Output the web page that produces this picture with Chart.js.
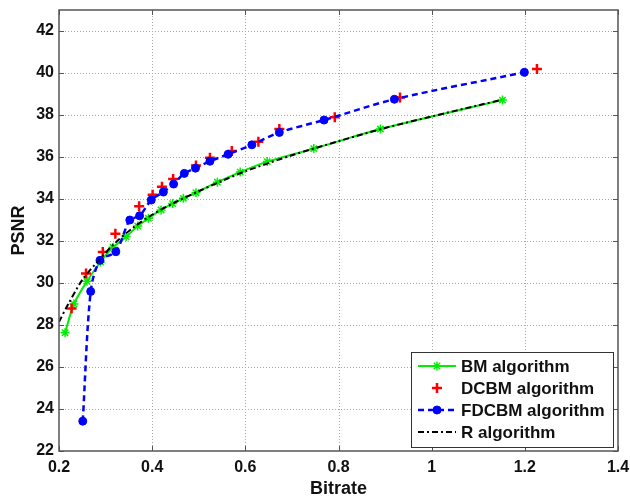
<!DOCTYPE html>
<html>
<head>
<meta charset="utf-8">
<script src="https://cdn.jsdelivr.net/npm/chart.js@4.4.1/dist/chart.umd.min.js"></script>
<style>
  body { margin:0; background:#fff; }
  #wrap { width:630px; height:501px; position:relative; }
</style>
</head>
<body>
<div id="wrap"><canvas id="myChart"></canvas></div>
<script>
// values
const bmRate = [0.213, 0.232, 0.260, 0.289, 0.316, 0.344, 0.369, 0.392, 0.419, 0.444, 0.467, 0.494, 0.540, 0.589, 0.647, 0.747, 0.890, 1.152];
const bmPsnr = [27.63, 29.0, 30.08, 31.0, 31.7, 32.2, 32.71, 33.08, 33.48, 33.78, 34.03, 34.30, 34.80, 35.28, 35.78, 36.40, 37.33, 38.71];

const dcbmRate = [0.227, 0.258, 0.294, 0.321, 0.372, 0.401, 0.421, 0.445, 0.494, 0.524, 0.571, 0.628, 0.673, 0.792, 0.932, 1.226];
const dcbmPsnr = [28.78, 30.45, 31.48, 32.35, 33.65, 34.2, 34.58, 34.95, 35.6, 35.97, 36.28, 36.73, 37.33, 37.89, 38.83, 40.19];

const fdcbmRate = [0.251, 0.268, 0.288, 0.322, 0.352, 0.373, 0.398, 0.424, 0.446, 0.469, 0.493, 0.524, 0.563, 0.614, 0.673, 0.769, 0.920, 1.199];
const fdcbmPsnr = [23.42, 29.6, 31.08, 31.49, 33.0, 33.2, 33.95, 34.33, 34.71, 35.22, 35.47, 35.8, 36.13, 36.58, 37.17, 37.76, 38.75, 40.03];

const rRate = [0.2, 0.22, 0.25, 0.28, 0.32, 0.36, 0.4, 0.45, 0.5, 0.55, 0.6, 0.7, 0.8, 0.9, 1.0, 1.1, 1.15];
const rPsnr = [28.15, 29.0, 30.15, 30.95, 31.9, 32.65, 33.25, 33.85, 34.37, 34.86, 35.32, 36.08, 36.75, 37.38, 37.93, 38.46, 38.72];

const seriesNames = ['BM algorithm', 'DCBM algorithm', 'FDCBM algorithm', 'R algorithm'];
const xTicks = [0.2, 0.4, 0.6, 0.8, 1.0, 1.2, 1.4];
const yTicks = [22, 24, 26, 28, 30, 32, 34, 36, 38, 40, 42];

const pts = (xs, ys) => xs.map((v, i) => ({x: v, y: ys[i]}));
const FONT = '"Liberation Sans", Arial, sans-serif';

// dotted grid, box, inner ticks and legend, matlab style
const matlabBits = {
  id: 'matlabBits',
  beforeDatasetsDraw(chart) {
    const ctx = chart.ctx, a = chart.chartArea;
    const sx = chart.scales.x, sy = chart.scales.y;
    ctx.save();
    ctx.strokeStyle = '#a8a8a8';
    ctx.lineWidth = 1;
    ctx.setLineDash([1, 2]);
    xTicks.slice(1, -1).forEach(v => {
      const px = Math.round(sx.getPixelForValue(v)) + 0.5;
      ctx.beginPath(); ctx.moveTo(px, a.top); ctx.lineTo(px, a.bottom); ctx.stroke();
    });
    yTicks.slice(1).forEach(v => {
      const py = Math.round(sy.getPixelForValue(v)) + 0.5;
      ctx.beginPath(); ctx.moveTo(a.left, py); ctx.lineTo(a.right, py); ctx.stroke();
    });
    ctx.restore();
  },
  afterDatasetsDraw(chart) {
    const ctx = chart.ctx, a = chart.chartArea;
    const sx = chart.scales.x, sy = chart.scales.y;
    ctx.save();
    ctx.strokeStyle = '#555';
    ctx.lineWidth = 1;
    xTicks.forEach(v => {
      const px = Math.round(sx.getPixelForValue(v)) + 0.5;
      ctx.beginPath();
      ctx.moveTo(px, a.bottom); ctx.lineTo(px, a.bottom - 5);
      ctx.moveTo(px, a.top); ctx.lineTo(px, a.top + 5);
      ctx.stroke();
    });
    yTicks.forEach(v => {
      const py = Math.round(sy.getPixelForValue(v)) + 0.5;
      ctx.beginPath();
      ctx.moveTo(a.left, py); ctx.lineTo(a.left + 5, py);
      ctx.moveTo(a.right, py); ctx.lineTo(a.right - 5, py);
      ctx.stroke();
    });
    ctx.lineWidth = 1.5;
    ctx.strokeRect(a.left, a.top, a.right - a.left, a.bottom - a.top);

    // legend
    const lx = 411, ly = 352, lw = 202, lh = 95;
    ctx.fillStyle = '#fff';
    ctx.fillRect(lx, ly, lw, lh);
    ctx.strokeStyle = '#333';
    ctx.lineWidth = 1;
    ctx.strokeRect(lx + 0.5, ly + 0.5, lw, lh);
    const rows = [366, 388, 410, 432];
    chart.data.datasets.forEach((ds, i) => {
      const y = rows[i];
      ctx.save();
      if (ds.showLine !== false) {
        ctx.strokeStyle = ds.borderColor;
        ctx.lineWidth = ds.borderWidth;
        ctx.setLineDash(ds.borderDash || []);
        ctx.beginPath();
        ctx.moveTo(418, y); ctx.lineTo(456, y);
        ctx.stroke();
      }
      ctx.setLineDash([]);
      if (ds.pointRadius > 0) {
        ctx.fillStyle = ds.pointBackgroundColor;
        ctx.strokeStyle = ds.pointBorderColor;
        ctx.lineWidth = ds.pointBorderWidth || ds.borderWidth;
        Chart.helpers.drawPoint(ctx, {
          pointStyle: ds.pointStyle, radius: ds.pointRadius,
          borderWidth: ds.pointBorderWidth || ds.borderWidth, rotation: 0
        }, 437, y);
      }
      ctx.restore();
      ctx.fillStyle = '#111';
      ctx.font = 'bold 17px ' + FONT;
      ctx.textBaseline = 'middle';
      ctx.fillText(ds.label, 461, y + 1);
    });
    ctx.restore();
  }
};

window.myChart = new Chart(document.getElementById('myChart'), {
  type: 'scatter',
  data: {
    datasets: [
      {
        label: seriesNames[0], data: pts(bmRate, bmPsnr), showLine: true,
        borderColor: '#00ee00', borderWidth: 2, order: 3,
        pointStyle: 'star', pointRadius: 4.5, pointBorderWidth: 1.5,
        pointBorderColor: '#00ee00', pointBackgroundColor: '#00ee00'
      },
      {
        label: seriesNames[1], data: pts(dcbmRate, dcbmPsnr), showLine: false,
        borderColor: '#ff0000', borderWidth: 2.5, order: 2,
        pointStyle: 'cross', pointRadius: 5, pointBorderWidth: 2.5,
        pointBorderColor: '#ff0000', pointBackgroundColor: '#ff0000'
      },
      {
        label: seriesNames[2], data: pts(fdcbmRate, fdcbmPsnr), showLine: true,
        borderColor: '#0000ff', borderWidth: 2.5, borderDash: [6, 4], order: 1,
        pointStyle: 'circle', pointRadius: 4, pointBorderWidth: 1,
        pointBorderColor: '#0000ff', pointBackgroundColor: '#0000ff'
      },
      {
        label: seriesNames[3], data: pts(rRate, rPsnr), showLine: true,
        borderColor: '#000000', borderWidth: 2, borderDash: [6, 3, 2, 3], order: 0,
        pointRadius: 0, pointBorderColor: '#000', pointBackgroundColor: '#000'
      }
    ]
  },
  options: {
    responsive: true,
    maintainAspectRatio: false,
    animation: false,
    layout: { padding: { top: 10, right: 12, left: 0, bottom: 0 } },
    elements: { line: { tension: 0.3, fill: false } },
    plugins: { legend: { display: false }, tooltip: { enabled: false } },
    scales: {
      x: {
        type: 'linear', min: 0.2, max: 1.4,
        afterFit: s => { s.height = 50; s.paddingLeft = 0; s.paddingRight = 0; },
        afterBuildTicks: s => { s.ticks = xTicks.map(v => ({value: v})); },
        ticks: {
          color: '#111', padding: 7, maxRotation: 0,
          font: { family: FONT, size: 16, weight: 'bold' },
          callback: v => String(Math.round(v * 10) / 10)
        },
        grid: { display: false, drawTicks: false, tickLength: 0 },
        border: { display: false },
        title: { display: true, text: 'Bitrate', color: '#111', padding: { top: 0, bottom: 1 },
                 font: { family: FONT, size: 18, weight: 'bold' } }
      },
      y: {
        type: 'linear', min: 22, max: 43,
        afterFit: s => { s.width = 59; s.paddingTop = 0; s.paddingBottom = 0; },
        afterBuildTicks: s => { s.ticks = yTicks.map(v => ({value: v})); },
        ticks: {
          color: '#111', padding: 5,
          font: { family: FONT, size: 16, weight: 'bold' }
        },
        grid: { display: false, drawTicks: false, tickLength: 0 },
        border: { display: false },
        title: { display: true, text: 'PSNR', color: '#111', padding: { top: 8, bottom: 0 },
                 font: { family: FONT, size: 18, weight: 'bold' } }
      }
    }
  },
  plugins: [matlabBits]
});
</script>
</body>
</html>
